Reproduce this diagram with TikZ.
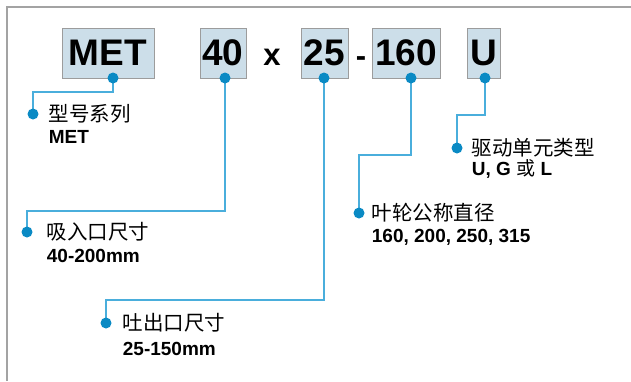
\documentclass[tikz,border=0pt]{standalone}
\usepackage{fontspec}
\setmainfont{Liberation Sans}
\newfontfamily\cjk{Noto Sans CJK SC}
\usetikzlibrary{positioning}

\definecolor{boxfill}{HTML}{CCDEE9}
\definecolor{boxline}{HTML}{9C9C9C}
\definecolor{dotblue}{HTML}{0A8AC4}
\definecolor{lineblue}{HTML}{4AAEDC}
\definecolor{framegray}{HTML}{A3A3A3}

\begin{document}
\begin{tikzpicture}[x=1pt, y=-1pt]

% Overall look of the code boxes and the call-outs
\tikzset{codebox/.style={rectangle, fill=boxfill, draw=boxline, line width=0.9pt, minimum height=50pt, inner sep=0pt, font=\fontsize{37}{40}\selectfont\bfseries}}
\tikzset{sep/.style={inner sep=0pt, font=\fontsize{31}{34}\selectfont\bfseries}}
\tikzset{dot/.style={circle, fill=dotblue, minimum size=11pt, inner sep=0pt}}
\tikzset{link/.style={draw=lineblue, line width=1.3pt}}

% Labels below the call-outs
\tikzset{head/.style={inner sep=0pt, anchor=west, font=\fontsize{20.5}{23}\cjk}}
\tikzset{sub/.style={inner sep=0pt, anchor=base west, font=\fontsize{19}{22}\selectfont\bfseries}}

\useasboundingbox (0,0) rectangle (631,381);
\draw[framegray, line width=2pt] (7,381) -- (7,7) -- (631,7);

% The type code
\node[codebox, minimum width=92pt] (met) at (108,53) {MET};
\node[codebox, minimum width=46pt] (inlet) at (223,53) {40};
\node[sep] (times) at (272,57) {x};
\node[codebox, minimum width=47pt] (outlet) at (324.5,53) {25};
\node[sep] (dash) at (361,62) {-};
\node[codebox, minimum width=68pt] (wheel) at (406,53) {160};
\node[codebox, minimum width=33pt] (drive) at (483.5,53) {U};

% Start and end points of the call-outs
\coordinate (s-met) at (113,78);
\coordinate (s-inlet) at (225,78);
\coordinate (s-outlet) at (324,78);
\coordinate (s-wheel) at (411,78);
\coordinate (s-drive) at (485,78);

\coordinate (e-met) at (33,114);
\coordinate (e-inlet) at (27,232);
\coordinate (e-outlet) at (106,323);
\coordinate (e-wheel) at (359,213);
\coordinate (e-drive) at (457,148);

\draw[link] (s-met) -- ++(0,14) -| (e-met);
\draw[link] (s-inlet) -- ++(0,133) -| (e-inlet);
\draw[link] (s-outlet) -- ++(0,222) -| (e-outlet);
\draw[link] (s-wheel) -- ++(0,77) -| (e-wheel);
\draw[link] (s-drive) -- ++(0,37) -| (e-drive);

\foreach \p in {met,inlet,outlet,wheel,drive}{
	\node[dot] (ds-\p) at (s-\p) {};
	\node[dot] (de-\p) at (e-\p) {};
}

% Texts
\node[head, right=10pt of de-met] (t-met) {型号系列};
\node[sub] (v-met) at ([yshift=-22pt]t-met.base west) {MET};

\node[head, right=14pt of de-inlet] (t-inlet) {吸入口尺寸};
\node[sub] (v-inlet) at ([yshift=-23pt]t-inlet.base west) {40-200mm};

\node[head, right=11pt of de-outlet] (t-outlet) {吐出口尺寸};
\node[sub] (v-outlet) at ([yshift=-25pt]t-outlet.base west) {25-150mm};

\node[head, right=7pt of de-wheel] (t-wheel) {叶轮公称直径};
\node[sub] (v-wheel) at ([yshift=-22pt]t-wheel.base west) {160, 200, 250, 315};

\node[head, right=9pt of de-drive] (t-drive) {驱动单元类型};
\node[sub] (v-drive) at ([yshift=-20pt]t-drive.base west) {U, G {\cjk\mdseries 或} L};

\end{tikzpicture}
\end{document}
